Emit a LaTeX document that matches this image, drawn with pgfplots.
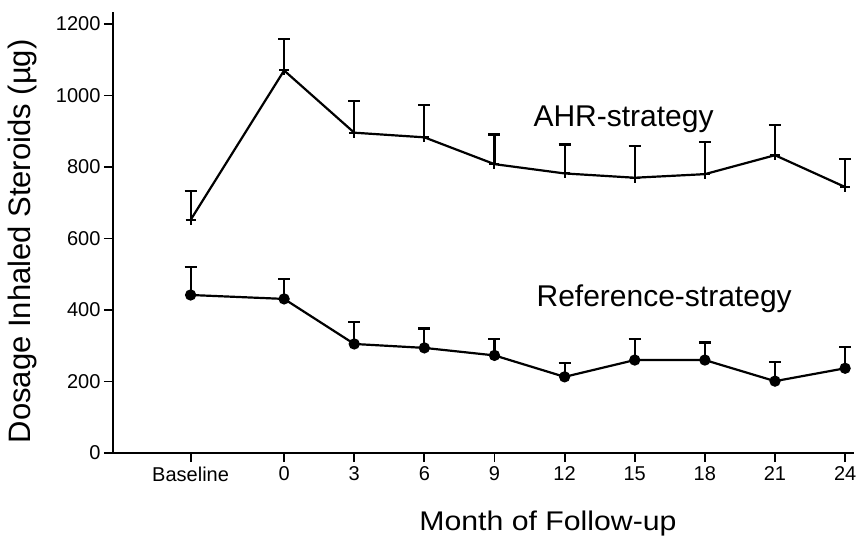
\documentclass[border=0pt]{standalone}
\usepackage{fontspec}
\setmainfont{Liberation Sans}
\usepackage{graphicx}
\usepackage{pgfplots}
\pgfplotsset{compat=1.18}
\begin{document}
\begin{tikzpicture}
\begin{axis}[
  name=ax,
  scale only axis,
  width=741pt, height=441pt,
  xmin=-7.32, xmax=24.38,
  ymin=0, ymax=1233.6,
  axis x line=bottom, axis y line=left,
  axis line style={-, line width=2.2pt, black},
  tick style={line width=1.8pt, black},
  major tick length=9pt,
  tick align=outside,
  xtick={-4,0,3,6,9,12,15,18,21,24},
  xticklabels={Baseline,0,3,6,9,12,15,18,21,24},
  ytick={0,200,400,600,800,1000,1200},
  /pgf/number format/assume math mode=true,
  /pgf/number format/1000 sep={},
  tick label style={font=\fontsize{20}{23}\selectfont, text=black},
  xticklabel style={yshift=-1pt},
  yticklabel style={xshift=0pt},
  xlabel={\scalebox{1.12}[1]{\fontsize{27}{30}\selectfont Month of Follow-up}},
  xlabel style={at={(axis description cs:0.587,-0.1746)}, anchor=base, text=black},
  ylabel={\fontsize{31}{34}\selectfont Dosage Inhaled Steroids (µg)},
  ylabel style={at={(axis description cs:-0.112,0.48)}, anchor=base, text=black},
  clip=false,
]
\addplot+[black, line width=2.2pt, mark=+, mark size=5pt, mark options={solid, line width=2pt},
  error bars/.cd, y dir=plus, y explicit,
  error bar style={line width=2.2pt, black},
  error mark options={rotate=90, mark size=6pt, line width=2.2pt, black}]
coordinates {
(-4,652) +- (0,82)
(0,1070) +- (0,87)
(3,896) +- (0,89)
(6,883) +- (0,90)
(9,808) +- (0,83)
(12,782) +- (0,81)
(15,770) +- (0,89)
(18,780) +- (0,91)
(21,833) +- (0,84)
(24,744) +- (0,78)
};
\addplot+[black, line width=2.2pt, mark=*, mark size=4.5pt, mark options={solid, fill=black},
  error bars/.cd, y dir=plus, y explicit,
  error bar style={line width=2.2pt, black},
  error mark options={rotate=90, mark size=6pt, line width=2.2pt, black}]
coordinates {
(-4,442) +- (0,79)
(0,431) +- (0,55)
(3,305) +- (0,61)
(6,294) +- (0,54)
(9,273) +- (0,46)
(12,213) +- (0,38)
(15,260) +- (0,60)
(18,260) +- (0,49)
(21,201) +- (0,54)
(24,237) +- (0,59)
};
\node[anchor=base west, font=\fontsize{30}{34}\selectfont, text=black] at (axis cs:10.52,912) {AHR-strategy};
\node[anchor=base west, font=\fontsize{30}{34}\selectfont, text=black] at (axis cs:10.65,409) {Reference-strategy};
\end{axis}
\pgfresetboundingbox
\path ([xshift=-113pt,yshift=-85pt]ax.south west) rectangle ([xshift=3pt,yshift=12pt]ax.north east);
\end{tikzpicture}
\end{document}
